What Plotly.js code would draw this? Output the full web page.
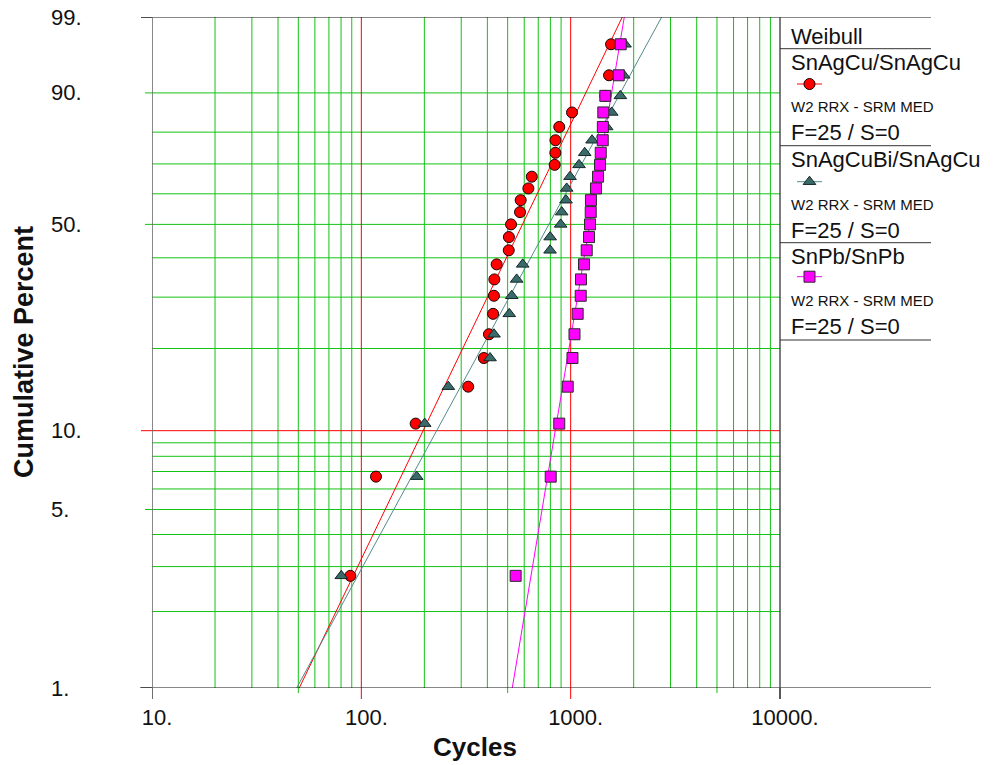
<!DOCTYPE html>
<html>
<head>
<meta charset="utf-8">
<script src="https://cdn.plot.ly/plotly-3.0.1.min.js"></script>
<style>
html, body { margin: 0; padding: 0; background: #ffffff; }
#chart { width: 998px; height: 765px; }
</style>
</head>
<body>
<div id="chart"></div>
<script>
// Median-rank plotting positions (cumulative percent), 25 failures, no suspensions
const cumPercent = [2.76, 6.69, 10.63, 14.57, 18.50, 22.44, 26.38, 30.31, 34.25, 38.19,
  42.13, 46.06, 50.00, 53.94, 57.87, 61.81, 65.75, 69.69, 73.62, 77.56,
  81.50, 85.43, 89.37, 93.31, 97.24];

// Cycles to failure, ascending
const cyclesSnAgCu = [88.6, 117.5, 181.8, 324, 385, 407, 426, 430, 432, 443,
  506, 507, 519, 573, 577, 628, 652, 839, 845, 846,
  882, 1015, 1464, 1525, 1559];
const cyclesSnAgCuBi = [80.2, 183.9, 200.8, 260.3, 411.8, 430.3, 509, 523, 552, 590,
  797, 798, 896, 906, 950, 957, 993, 1096, 1167, 1265,
  1486, 1571, 1727, 1792, 1818];
const cyclesSnPb = [546, 803, 882, 968, 1020, 1043, 1080, 1117, 1120, 1158,
  1193, 1224, 1237, 1247, 1250, 1321, 1351, 1381, 1392, 1423,
  1425, 1432, 1464, 1697, 1734];

// Weibull 2-parameter fit lines (RRX): cycles at 1 % and 99 %
const fitPercent = [1, 99];
const fitSnAgCu = [50.5, 1765];
const fitSnAgCuBi = [49.1, 2722];
const fitSnPb = [526, 1804];

const seriesNames = ['SnAgCu/SnAgCu', 'SnAgCuBi/SnAgCu', 'SnPb/SnPb'];
const distLabel = 'Weibull';
const fitLabel = 'W2 RRX - SRM MED';
const countLabel = 'F=25 / S=0';

const xTickVals = [10, 100, 1000, 10000];
const xTickText = ['10.', '100.', '1000.', '10000.'];
const yTickVals = [99, 90, 50, 10, 5, 1];
const yTickText = ['99.', '90.', '50.', '10.', '5.', '1.'];

const xGridMinor = [20, 30, 40, 50, 60, 70, 80, 90,
  200, 300, 400, 500, 600, 700, 800, 900,
  2000, 3000, 4000, 5000, 6000, 7000, 8000, 9000];
const xGridDecade = [100, 1000];
const yGridMinor = [2, 3, 4, 5, 6, 7, 8, 9, 20, 30, 40, 50, 60, 70, 80, 90];
const yGridDecade = [10];

// ---- styling ----
const FONT = 'Liberation Sans, Arial, Helvetica, sans-serif';
const GREEN = 'rgb(20,195,20)';
const RED = 'rgb(255,0,0)';
const INK = '#111111';
const RED_FILL = '#ff0000';
const TEAL_FILL = 'rgb(58,106,106)';
const TEAL_LINE = 'rgb(84,140,140)';
const MAG_FILL = '#ff00ff';

// plot frame in pixels
const PL = 152, PR = 930, PT = 17, PB = 688;
const PW = PR - PL, PH = PB - PT;
const px = v => (v - PL) / PW;   // pixel x -> paper x
const py = v => (PB - v) / PH;   // pixel y -> paper y

// Weibull probability scale: ln(-ln(1-F))
const wb = p => Math.log(-Math.log(1 - p / 100));

const yLo = wb(1), yHi = wb(99);

const traces = [];

// fit lines
[[fitSnAgCu, RED], [fitSnAgCuBi, TEAL_LINE], [fitSnPb, MAG_FILL]].forEach(([xs, c]) => {
  traces.push({
    type: 'scatter', mode: 'lines', x: xs, y: fitPercent.map(wb),
    line: { color: c, width: 1 }, hoverinfo: 'skip', cliponaxis: true
  });
});

// data points
const markerStyles = [
  { symbol: 'circle', size: 11, color: RED_FILL, line: { color: '#1a0000', width: 1 } },
  { symbol: 'triangle-up', size: 11, color: TEAL_FILL, line: { color: '#142828', width: 1 } },
  { symbol: 'square', size: 11, color: MAG_FILL, line: { color: '#2a2a2a', width: 1 } }
];
[cyclesSnAgCu, cyclesSnAgCuBi, cyclesSnPb].forEach((xs, i) => {
  traces.push({
    type: 'scatter', mode: 'markers', name: seriesNames[i],
    x: xs, y: cumPercent.map(wb), marker: markerStyles[i], cliponaxis: false
  });
});

// legend glyphs, drawn on a pixel-unit overlay axis pair
const legendRows = [84, 181.7, 276.7];
const legendLineColors = [RED, TEAL_LINE, MAG_FILL];
legendRows.forEach((ry, i) => {
  traces.push({
    type: 'scatter', mode: 'lines', x: [797, 822], y: [ry, ry],
    xaxis: 'x2', yaxis: 'y2', line: { color: legendLineColors[i], width: 1 }, hoverinfo: 'skip'
  });
  traces.push({
    type: 'scatter', mode: 'markers', x: [809.5], y: [ry],
    xaxis: 'x2', yaxis: 'y2', marker: markerStyles[i], hoverinfo: 'skip', cliponaxis: false
  });
});

// ---- shapes: grid, ticks, frame ----
const shapes = [];
const vLine = (v, color, width) => shapes.push({
  type: 'line', xref: 'x', yref: 'y', x0: v, x1: v, y0: yLo, y1: yHi,
  line: { color: color, width: width }, layer: 'below'
});
const hLine = (p, color, width) => shapes.push({
  type: 'line', xref: 'x', yref: 'y', x0: 10, x1: 10000, y0: wb(p), y1: wb(p),
  line: { color: color, width: width }, layer: 'below'
});
xGridMinor.forEach(v => vLine(v, GREEN, 1));
yGridMinor.forEach(p => hLine(p, GREEN, 1));
xGridDecade.forEach(v => vLine(v, RED, 1));
yGridDecade.forEach(p => hLine(p, RED, 1));

// outside tick stubs on the bottom axis
[[10, INK, 11], [50, GREEN, 5], [100, RED, 11], [500, GREEN, 5],
 [1000, RED, 11], [5000, GREEN, 5], [10000, INK, 11]].forEach(([v, c, len]) => {
  shapes.push({ type: 'line', xref: 'x', yref: 'paper', x0: v, x1: v, y0: 0, y1: -len / PH,
    line: { color: c, width: 1 } });
});
// outside tick stubs on the left axis
[[99, INK, 11], [90, GREEN, 7], [50, GREEN, 7], [10, RED, 11], [5, GREEN, 7], [1, INK, 11]].forEach(([p, c, len]) => {
  shapes.push({ type: 'line', xref: 'paper', yref: 'y', x0: -len / PW, x1: 0, y0: wb(p), y1: wb(p),
    line: { color: c, width: 1 } });
});

// frame lines
shapes.push({ type: 'line', xref: 'paper', yref: 'y', x0: px(141), x1: px(931), y0: yHi, y1: yHi,
  line: { color: INK, width: 1 } });
shapes.push({ type: 'line', xref: 'paper', yref: 'y', x0: px(140), x1: px(931), y0: yLo, y1: yLo,
  line: { color: INK, width: 1.2 } });
shapes.push({ type: 'line', xref: 'x', yref: 'paper', x0: 10, x1: 10, y0: py(699), y1: 1,
  line: { color: '#6a6a6a', width: 1.6 } });
shapes.push({ type: 'line', xref: 'x', yref: 'paper', x0: 10000, x1: 10000, y0: py(699), y1: 1,
  line: { color: '#444444', width: 1.4 } });

// legend separators
[48.7, 145.7, 242.7, 340].forEach(ry => {
  shapes.push({ type: 'line', xref: 'paper', yref: 'paper', x0: px(780), x1: px(931), y0: py(ry), y1: py(ry),
    line: { color: '#333333', width: 1 } });
});

// ---- annotations: y tick labels, axis titles, legend text ----
const annotations = [];
yTickVals.forEach((p, i) => {
  annotations.push({
    xref: 'paper', yref: 'y', x: px(49), y: wb(p), xanchor: 'left', yanchor: 'middle',
    text: yTickText[i], showarrow: false, font: { family: FONT, size: 22, color: INK }
  });
});
annotations.push({
  xref: 'paper', yref: 'paper', x: px(24), y: py(352), xanchor: 'center', yanchor: 'middle',
  text: '<b>Cumulative Percent</b>', textangle: -90, showarrow: false,
  font: { family: FONT, size: 27, color: INK }
});
annotations.push({
  xref: 'paper', yref: 'paper', x: px(475), y: py(747), xanchor: 'center', yanchor: 'middle',
  text: '<b>Cycles</b>', showarrow: false, font: { family: FONT, size: 26, color: INK }
});

const legendText = (txt, ry, size) => annotations.push({
  xref: 'paper', yref: 'paper', x: px(789), y: py(ry), xanchor: 'left', yanchor: 'middle',
  text: txt, showarrow: false, font: { family: FONT, size: size, color: INK }
});
legendText(distLabel, 37, 22);
const blockTops = [62, 159.5, 256];
seriesNames.forEach((nm, i) => {
  const t = blockTops[i];
  legendText(nm, t, 22);
  legendText(fitLabel, t + 44.7, 15);
  legendText(countLabel, t + 70.5, 22);
});

const layout = {
  width: 998, height: 765,
  margin: { l: PL, r: 998 - PR, t: PT, b: 765 - PB, pad: 0 },
  paper_bgcolor: '#ffffff', plot_bgcolor: '#ffffff',
  showlegend: false,
  font: { family: FONT, color: INK },
  xaxis: {
    type: 'log', range: [1, 1 + 3 * PW / (780 - PL)],
    showgrid: false, zeroline: false, showline: false, ticks: '',
    tickmode: 'array', tickvals: xTickVals, ticktext: xTickText,
    tickfont: { family: FONT, size: 22, color: INK },
    ticklabelstandoff: 14, ticklabelshift: 5, fixedrange: true
  },
  yaxis: {
    range: [yLo, yHi], showgrid: false, zeroline: false, showline: false,
    ticks: '', showticklabels: false, fixedrange: true
  },
  xaxis2: { overlaying: 'x', range: [PL, PR], visible: false, fixedrange: true },
  yaxis2: { overlaying: 'y', range: [PB, PT], visible: false, fixedrange: true },
  shapes: shapes,
  annotations: annotations
};

Plotly.newPlot('chart', traces, layout, { staticPlot: true, displayModeBar: false });
</script>
</body>
</html>
